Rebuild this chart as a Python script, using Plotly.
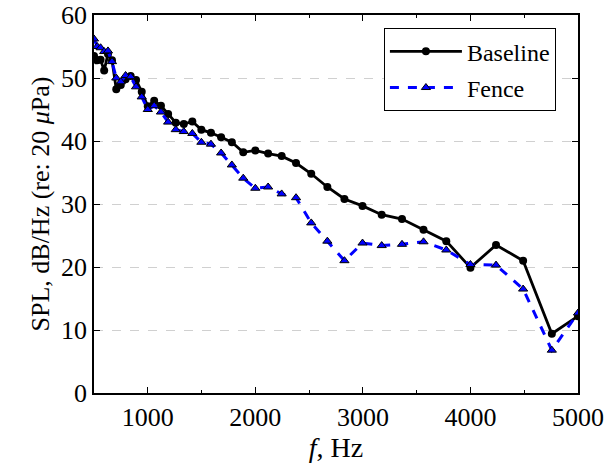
import plotly.graph_objects as go

# 1/12-octave band centre frequencies (Hz)
freq = [500.0, 529.7, 561.2, 594.6, 630.0, 667.4, 707.1, 749.2, 793.7, 840.9,
        890.9, 943.9, 1000.0, 1059.5, 1122.5, 1189.2, 1259.9, 1334.8, 1414.2, 1498.3,
        1587.4, 1681.8, 1781.8, 1887.7, 2000.0, 2118.9, 2244.9, 2378.4, 2519.8, 2669.6,
        2828.4, 2996.6, 3174.8, 3363.6, 3563.6, 3775.5, 4000.0, 4237.9, 4489.8, 4756.8,
        5000.0]

baseline = [53.5, 52.8, 52.9, 51.2, 53.8, 52.8, 48.2, 48.9, 49.8, 50.3,
            49.7, 47.8, 45.5, 46.4, 45.6, 44.3, 42.9, 42.7, 43.1, 41.8,
            41.3, 40.6, 39.8, 38.2, 38.5, 38.0, 37.6, 36.5, 34.8, 32.7,
            30.8, 29.7, 28.3, 27.6, 25.9, 24.1, 19.9, 23.5, 21.0, 9.4,
            12.2]

fence = [56.2, 55.0, 54.8, 54.2, 54.3, 52.6, 50.0, 49.4, 50.4, 50.2,
         48.6, 47.0, 45.0, 45.6, 44.6, 43.0, 41.8, 41.5, 41.2, 39.8,
         39.5, 38.1, 36.2, 34.1, 32.5, 32.7, 31.6, 31.0, 27.0, 24.1,
         21.0, 23.8, 23.4, 23.6, 24.0, 22.7, 20.4, 20.3, 16.5, 6.8,
         12.7]

x_ticks = [1000, 2000, 3000, 4000, 5000]
y_ticks = [0, 10, 20, 30, 40, 50, 60]

FONT = "Liberation Serif"

fig = go.Figure()
fig.add_trace(go.Scatter(
    x=freq, y=baseline, name="Baseline", mode="lines+markers", legendgroup="a",
    line=dict(color="black", width=2.8),
    marker=dict(symbol="circle", size=8, color="black"),
))
fig.add_trace(go.Scatter(
    x=freq, y=fence, name="Fence", mode="lines+markers", legendgroup="b",
    line=dict(color="#0000ff", width=3, dash="dash"),
    marker=dict(symbol="triangle-up", size=8, color="#0000ff",
                line=dict(color="black", width=1)),
))

fig.update_layout(
    width=607, height=463,
    margin=dict(l=94, r=29, t=15, b=70, autoexpand=False),
    paper_bgcolor="white", plot_bgcolor="white",
    font=dict(family=FONT, size=25, color="black"),
    showlegend=True,
    legend=dict(x=0.599, y=0.965, xanchor="left", yanchor="top",
                bgcolor="white", bordercolor="black", borderwidth=1,
                font=dict(family=FONT, size=24, color="black"),
                itemwidth=72, tracegroupgap=2),
)
fig.update_xaxes(
    range=[500, 5000], tickvals=x_ticks, ticktext=[str(v) for v in x_ticks],
    tickfont=dict(family=FONT, size=26, color="black"),
    ticks="inside", ticklen=6, tickwidth=1, tickcolor="black",
    minor=dict(dtick=500, tick0=0, ticks="inside", ticklen=3, tickcolor="black", showgrid=False),
    showline=True, linecolor="black", linewidth=1.5, mirror="ticks",
    showgrid=False, zeroline=False, automargin=False,
    title=dict(text="<i>f</i>, Hz", standoff=0, font=dict(family=FONT, size=28)),
)
fig.update_yaxes(
    range=[0, 60], tickvals=y_ticks, ticktext=[str(v) for v in y_ticks],
    tickfont=dict(family=FONT, size=26, color="black"),
    ticks="inside", ticklen=6, tickwidth=1, tickcolor="black",
    showline=True, linecolor="black", linewidth=1.5, mirror="ticks",
    showgrid=True, gridcolor="#d0d0d0", griddash="dash", gridwidth=1,
    zeroline=False, automargin=False,
    title=dict(text="SPL, dB/Hz (re: 20 <i>μ</i>Pa)", standoff=4, font=dict(family=FONT, size=26)),
)

fig.write_html("out.html")
